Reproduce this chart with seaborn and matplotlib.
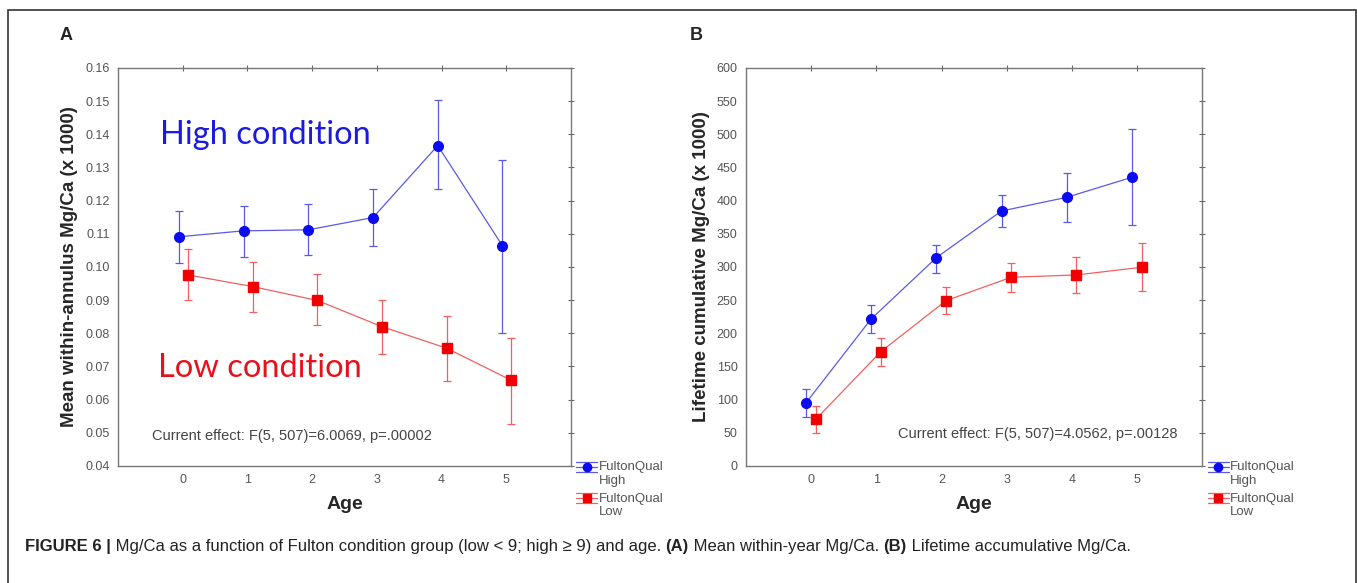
import pandas as pd
import seaborn as sns
import matplotlib.pyplot as plt
from matplotlib.patches import Rectangle
from matplotlib.lines import Line2D
from matplotlib.legend_handler import HandlerBase

# data
ages = [0, 1, 2, 3, 4, 5]

# A: mean within-annulus Mg/Ca (x 1000)
a_high = [0.1091, 0.1109, 0.1112, 0.1149, 0.1366, 0.1064]
a_high_lo = [0.1013, 0.1029, 0.1035, 0.1063, 0.1235, 0.0802]
a_high_hi = [0.1170, 0.1185, 0.1190, 0.1235, 0.1503, 0.1323]
a_low = [0.0976, 0.0941, 0.0899, 0.0820, 0.0755, 0.0658]
a_low_lo = [0.0899, 0.0863, 0.0825, 0.0739, 0.0657, 0.0527]
a_low_hi = [0.1053, 0.1016, 0.0978, 0.0901, 0.0853, 0.0787]

# B: lifetime cumulative Mg/Ca (x 1000)
b_high = [95, 221.6, 314, 384.4, 405, 435.2]
b_high_lo = [73.9, 200, 291.4, 360.8, 368.3, 362.9]
b_high_hi = [116.6, 242.7, 333.6, 408.6, 441.7, 508]
b_low = [70.3, 172.4, 249.3, 284.5, 288, 299.6]
b_low_lo = [50.3, 150.8, 229.2, 262.8, 261.3, 263.8]
b_low_hi = [91, 192.5, 270.3, 306.5, 314.6, 335.7]

a_yticks = [0.04, 0.05, 0.06, 0.07, 0.08, 0.09, 0.10, 0.11, 0.12, 0.13, 0.14, 0.15, 0.16]
b_yticks = list(range(0, 601, 50))

sns.set_style("white")
plt.rcParams['font.family'] = ['Liberation Sans', 'DejaVu Sans']

BLUE, BLUE_L = '#0b0bf0', '#5a5ae6'
RED, RED_L = '#f00000', '#f06060'


class ErrHandler(HandlerBase):
    # statistica-like legend glyph: line + marker + wide whisker caps
    def create_artists(self, legend, orig, xd, yd, w, h, fontsize, trans):
        cy = h / 2 - yd + fontsize * 0.55
        cl, c, m = orig.get_color(), orig.get_mfc(), orig.get_marker()
        dy = fontsize * 0.38
        arts = [Line2D([0, w], [cy, cy], color=cl, lw=0.9),
                Line2D([0, w], [cy + dy, cy + dy], color=cl, lw=0.9),
                Line2D([0, w], [cy - dy, cy - dy], color=cl, lw=0.9),
                Line2D([w / 2, w / 2], [cy - dy, cy + dy], color=cl, lw=0.9),
                Line2D([w / 2], [cy], ls='none', marker=m, ms=6, mfc=c, mec=c)]
        for a in arts:
            a.set_transform(trans)
        return arts


def panel(ax, high, hlo, hhi, low, llo, lhi, offs, yticks, fmt, ylabel, effect, effect_xy):
    df = pd.DataFrame({
        'Age': ages + ages,
        'val': high + low,
        'lo': hlo + llo,
        'hi': hhi + lhi,
        'FultonQual': ['High'] * 6 + ['Low'] * 6,
    })
    df['x'] = df['Age'] + df['FultonQual'].map(offs)
    sns.lineplot(data=df, x='x', y='val', hue='FultonQual',
                 palette={'High': BLUE_L, 'Low': RED_L}, lw=0.9,
                 legend=False, ax=ax, sort=False)
    handles = []
    for g, c, cl, m, ms in [('High', BLUE, BLUE_L, 'o', 7), ('Low', RED, RED_L, 's', 7.5)]:
        d = df[df['FultonQual'] == g]
        ax.errorbar(d['x'], d['val'], yerr=[d['val'] - d['lo'], d['hi'] - d['val']],
                    fmt='none', ecolor=cl, elinewidth=0.9, capsize=3, capthick=0.9)
        ax.plot(d['x'], d['val'], ls='none', marker=m, ms=ms, color=c, mec=c)
        handles.append(Line2D([], [], color=cl, marker=m, mfc=c))
    ax.set_xlim(-1, 6)
    ax.set_ylim(yticks[0], yticks[-1])
    ax.set_xticks(ages)
    ax.set_yticks(yticks)
    ax.set_yticklabels([fmt.format(v) for v in yticks])
    ax.tick_params(which='both', direction='inout', length=4, width=0.8, color='#666',
                   top=True, right=True, labelsize=9, labelcolor='#555', pad=4)
    for s in ax.spines.values():
        s.set_color('#777')
        s.set_linewidth(1)
    ax.set_xlabel('Age', fontsize=14, fontweight='bold', labelpad=7)
    ax.set_ylabel(ylabel, fontsize=13.5, fontweight='bold', labelpad=5)
    ax.text(effect_xy[0], effect_xy[1], effect, transform=ax.transAxes,
            fontsize=10.5, color='#444', va='baseline')
    leg = ax.legend(handles, ['FultonQual\nHigh', 'FultonQual\nLow'], loc='upper left',
                    bbox_to_anchor=(1.0, 0.025), frameon=False, handlelength=1.6,
                    handletextpad=0.1, borderaxespad=0, labelspacing=0.45,
                    handler_map={Line2D: ErrHandler()}, prop={'size': 9.5})
    for t in leg.get_texts():
        t.set_color('#555')
        t.set_linespacing(1.15)


fig = plt.figure(figsize=(13.57, 5.83), dpi=100)
axA = fig.add_axes([0.0870, 0.2007, 0.3338, 0.6827])
axB = fig.add_axes([0.5497, 0.2007, 0.3363, 0.6827])

panel(axA, a_high, a_high_lo, a_high_hi, a_low, a_low_lo, a_low_hi,
      {'High': -0.06, 'Low': 0.08}, a_yticks, '{:.2f}',
      'Mean within-annulus Mg/Ca (x 1000)',
      'Current effect: F(5, 507)=6.0069, p=.00002', (0.075, 0.065))
panel(axB, b_high, b_high_lo, b_high_hi, b_low, b_low_lo, b_low_hi,
      {'High': -0.08, 'Low': 0.07}, b_yticks, '{:d}',
      'Lifetime cumulative Mg/Ca (x 1000)',
      'Current effect: F(5, 507)=4.0562, p=.00128', (0.333, 0.07))

axA.text(0.093, 0.809, 'High condition', transform=axA.transAxes, color='#1a1ae0',
         fontsize=23.5, family=['Lato', 'DejaVu Sans'], va='baseline')
axA.text(0.088, 0.224, 'Low condition', transform=axA.transAxes, color='#e8101a',
         fontsize=23.5, family=['Lato', 'DejaVu Sans'], va='baseline')

fig.text(60 / 1357, 1 - 35 / 583, 'A', fontsize=13, fontweight='bold', va='center')
fig.text(690 / 1357, 1 - 35 / 583, 'B', fontsize=13, fontweight='bold', va='center')

# outer frame
fig.patches.append(Rectangle((8 / 1357, -0.1), 1348 / 1357, 1.1 - 10 / 583,
                             transform=fig.transFigure, fill=False, ec='#333', lw=1.2))

# caption with bold parts
pieces = [('FIGURE 6 |', 'bold'),
          (' Mg/Ca as a function of Fulton condition group (low < 9; high \u2265 9) and age. ', 'normal'),
          ('(A)', 'bold'), (' Mean within-year Mg/Ca. ', 'normal'),
          ('(B)', 'bold'), (' Lifetime accumulative Mg/Ca.', 'normal')]
fig.canvas.draw()
r = fig.canvas.get_renderer()
x = 25 / 1357
for txt, w in pieces:
    t = fig.text(x, 1 - 547 / 583, txt, fontsize=12, fontweight=w, va='center',
                 color='#222')
    bb = t.get_window_extent(renderer=r)
    x += bb.width / fig.bbox.width

fig.savefig('out.png', dpi=100)
